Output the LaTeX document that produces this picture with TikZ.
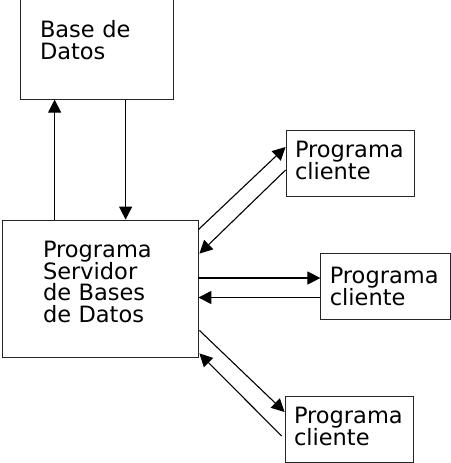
\documentclass[tikz,border=0pt]{standalone}
\usepackage{fontspec}
\setmainfont{DejaVu Sans}
\usetikzlibrary{positioning,arrows.meta}

\begin{document}
\begin{tikzpicture}[x=1pt,y=-1pt,
        box/.style={draw=black!85,line width=0.8pt,align=left,
                    font=\fontsize{22.5}{21.8}\selectfont},
        cliente/.style={box,text width=110pt,inner xsep=9pt,minimum height=66pt,text depth=27pt},
        arr/.style={-{Triangle[length=13pt,width=13pt]},line width=1.1pt}]
    \useasboundingbox (0,0) rectangle (450,463);
    \node[box,text width=114pt,inner xsep=41pt,minimum height=137pt,text depth=79pt] (srv) at (100,288.5)
        {Programa\\Servidor\\de Bases\\de Datos};
    \node[box,text width=113pt,inner xsep=20pt,minimum height=100pt,text depth=40pt,
          above=120pt of srv,xshift=-3.5pt] (db)
        {Base de\\Datos};
    \node[cliente] (c1) at (350,163) {Programa\\cliente};
    \node[cliente,text width=112pt,text depth=22pt,right=122pt of srv,yshift=2pt] (c2) {Programa\\cliente};
    \node[cliente] (c3) at (349,429) {Programa\\cliente};
    % base de datos
    \draw[arr] ([xshift=53pt]srv.north west) -- ([xshift=53pt]srv.north west |- db.south);
    \draw[arr] ([xshift=106pt]db.south west) -- ([xshift=106pt]db.south west |- srv.north);
    % clientes
    \draw[arr] ([yshift=-10pt]srv.north east) -- ([yshift=16pt]c1.west);
    \draw[arr] ([yshift=-7pt]c1.west) -- ([yshift=-34pt,xshift=1pt]srv.north east);
    \draw[arr] ([yshift=8.5pt]c2.west -| srv.east) -- ([yshift=8.5pt]c2.west);
    \draw[arr] ([yshift=-11pt]c2.west) -- ([yshift=-11pt]c2.west -| srv.east);
    \draw[arr] ([yshift=27pt,xshift=1pt]srv.south east) -- ([yshift=17pt]c3.west);
    \draw[arr] ([yshift=-7pt,xshift=-3pt]c3.west) -- ([yshift=4pt,xshift=1pt]srv.south east);
\end{tikzpicture}
\end{document}
